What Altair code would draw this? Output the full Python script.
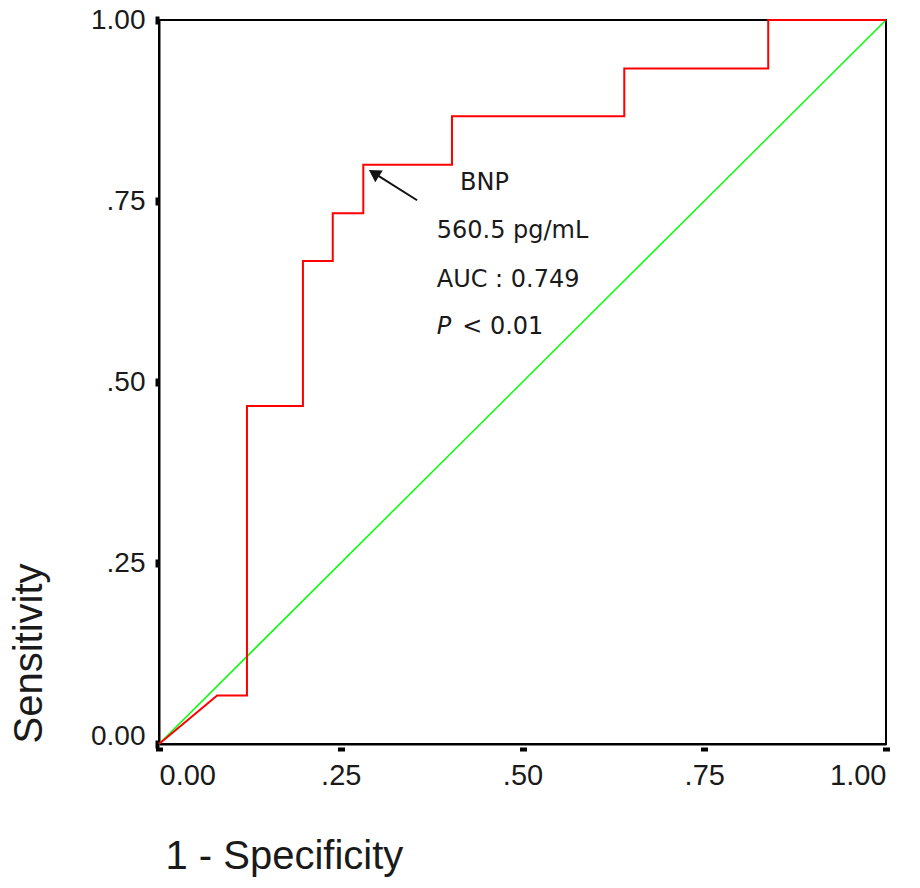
import altair as alt
import pandas as pd

# ROC curve (BNP)
fpr = [0.0, 0.08, 0.121, 0.121, 0.198, 0.198, 0.239, 0.239, 0.281, 0.281,
       0.403, 0.403, 0.640, 0.640, 0.838, 0.838, 1.0]
tpr = [0.0, 0.067, 0.067, 0.467, 0.467, 0.667, 0.667, 0.733, 0.733, 0.8,
       0.8, 0.867, 0.867, 0.933, 0.933, 1.0, 1.0]

ref_x = [0.0, 1.0]
ref_y = [0.0, 1.0]

tick_values = [0.0, 0.25, 0.5, 0.75, 1.0]

ann_text = ["BNP", "560.5 pg/mL", "AUC : 0.749", "< 0.01"]
ann_x = [0.414, 0.382, 0.382, 0.417]
ann_y = [0.775, 0.709, 0.641, 0.576]
p_text = ["P"]
p_x = [0.382]
p_y = [0.576]

arrow_tail = (0.355, 0.751)
arrow_head = (0.298, 0.787)

FONT = "Liberation Sans"
ANN_FONT = "DejaVu Sans"

roc = pd.DataFrame({"x": fpr, "y": tpr, "o": list(range(len(fpr)))})
ref = pd.DataFrame({"x": ref_x, "y": ref_y, "o": [0, 1]})
ann = pd.DataFrame({"x": ann_x, "y": ann_y, "t": ann_text})
pdf = pd.DataFrame({"x": p_x, "y": p_y, "t": p_text})
arr = pd.DataFrame({"x": [arrow_tail[0]], "y": [arrow_tail[1]],
                    "x2": [arrow_head[0]], "y2": [arrow_head[1]]})
head = pd.DataFrame({"x": [arrow_head[0]], "y": [arrow_head[1]]})

label_expr = "datum.value == 0 ? '0.00' : datum.value == 1 ? '1.00' : replace(format(datum.value, '.2f'), '0.', '.')"

xscale = alt.Scale(domain=[0, 1], nice=False, zero=False)
yscale = alt.Scale(domain=[0, 1], nice=False, zero=False)

xaxis = alt.Axis(
    values=tick_values, labelExpr=label_expr, title="1 - Specificity",
    grid=False, domainColor="#000000", domainWidth=2,
    tickColor="#000000", tickSize=7, tickWidth=7, tickDash=[0, 3, 4, 20],
    labelFont=FONT, labelFontSize=29, labelColor="#1a1a1a", labelPadding=10,
    labelBaseline="top",
    titleFont=FONT, titleFontSize=40, titleFontWeight="normal", titleColor="#1a1a1a",
    titleX=6, titleY=124, titleAlign="left", titleBaseline="alphabetic",
)
yaxis = alt.Axis(
    values=tick_values, labelExpr=label_expr, title="Sensitivity",
    grid=False, domainColor="#000000", domainWidth=2,
    tickColor="#000000", tickSize=4, tickWidth=8,
    labelFont=FONT, labelFontSize=28, labelColor="#1a1a1a", labelPadding=10,
    labelBaseline=alt.ExprRef("datum.value == 0 ? 'alphabetic' : 'middle'"),
    titleFont=FONT, titleFontSize=40, titleFontWeight="normal", titleColor="#1a1a1a",
    titleX=-130, titleY=723, titleAngle=270, titleAlign="left", titleBaseline="middle",
)

refline = alt.Chart(ref).mark_line(color="#00ff00", strokeWidth=1.5).encode(
    x=alt.X("x:Q", scale=xscale, axis=xaxis),
    y=alt.Y("y:Q", scale=yscale, axis=yaxis),
    order="o:O",
)

rocline = alt.Chart(roc).mark_line(color="#ff0000", strokeWidth=2, interpolate="linear").encode(
    x=alt.X("x:Q", scale=xscale),
    y=alt.Y("y:Q", scale=yscale),
    order="o:O",
)

texts = alt.Chart(ann).mark_text(
    align="left", baseline="middle", font=ANN_FONT, fontSize=24, color="#1a1a1a"
).encode(x="x:Q", y="y:Q", text="t:N")

ptext = alt.Chart(pdf).mark_text(
    align="left", baseline="middle", font=ANN_FONT, fontSize=24, fontStyle="italic", color="#1a1a1a"
).encode(x="x:Q", y="y:Q", text="t:N")

shaft = alt.Chart(arr).mark_rule(color="#111111", strokeWidth=2).encode(
    x="x:Q", y="y:Q", x2="x2:Q", y2="y2:Q"
)

arrowhead = alt.Chart(head).mark_point(
    shape="triangle", filled=True, color="#111111", size=190, angle=302.6, opacity=1
).encode(x="x:Q", y="y:Q")

chart = alt.layer(refline, rocline, shaft, arrowhead, texts, ptext).properties(
    width=727, height=724,
    autosize=alt.AutoSizeParams(type="none"),
    padding={"left": 151, "top": 12, "right": 20, "bottom": 136},
    background="white",
).configure_view(stroke="#000000", strokeWidth=2)

chart.save("out.html", embed_options={"renderer": "svg", "actions": False})
